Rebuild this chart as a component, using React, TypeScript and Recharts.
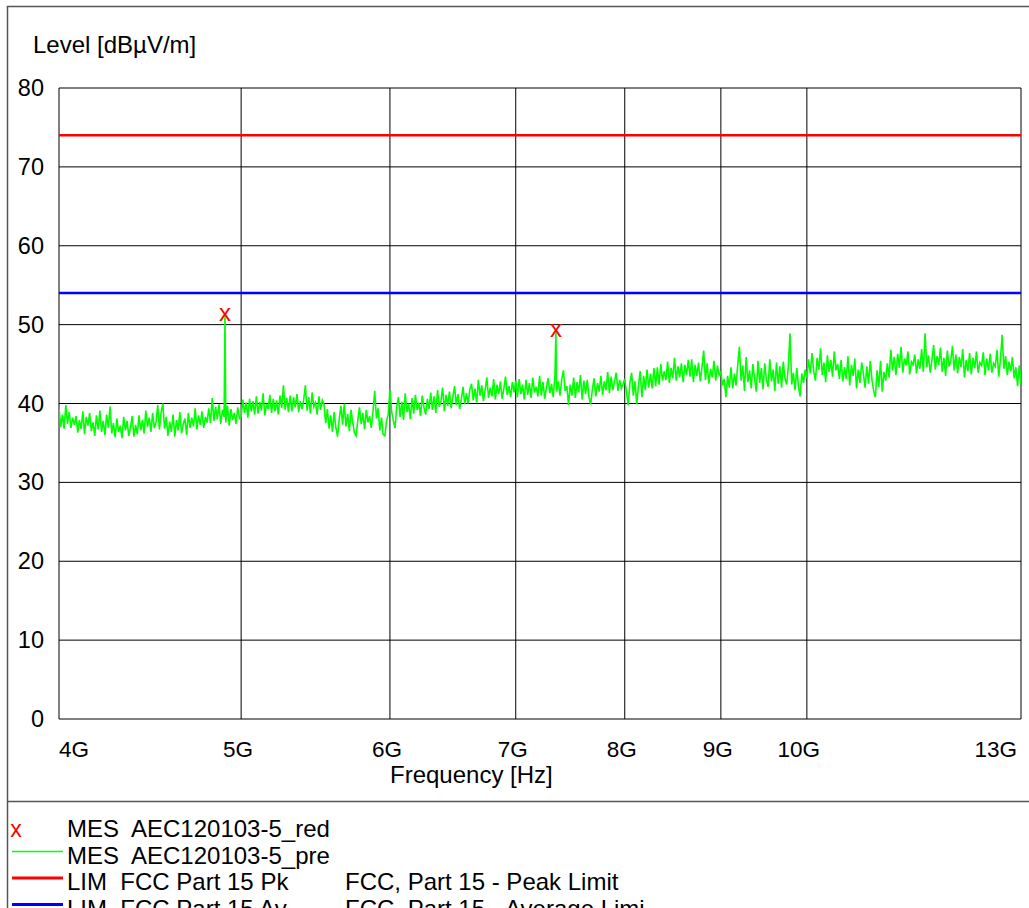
import React from "react";
import {
  ComposedChart,
  Line,
  Scatter,
  XAxis,
  YAxis,
  CartesianGrid,
} from "recharts";

const FONT = "'Liberation Sans', Arial, sans-serif";
const GHZ = 1e9;

// axis ticks
const FREQ_TICKS_GHZ = [4, 5, 6, 7, 8, 9, 10, 13];
const LEVEL_TICKS = [0, 10, 20, 30, 40, 50, 60, 70, 80];

// pre-scan trace, one array per frequency band (GHz edges below)
const BAND_EDGES_GHZ = [4, 5, 6, 7, 8, 9, 10, 13];

const LEVEL_4_5 = [
  39.5, 37.0, 38.6, 36.8, 39.8, 37.4, 38.9, 36.9, 38.2, 37.3,
  38.4, 36.3, 37.9, 36.8, 39.0, 36.1, 38.3, 37.2, 38.8, 36.5, 37.6, 35.9, 38.5, 36.7, 39.1, 36.4, 37.8, 36.0, 38.6, 36.9,
  39.6, 36.2, 37.5, 35.7, 38.1, 36.4, 37.2, 35.6, 38.3, 36.6, 37.8, 35.9, 37.0, 38.4, 35.8, 37.3, 36.1,
  38.5, 36.6, 37.9, 36.2, 39.1, 37.0, 38.2, 36.4, 38.8, 36.9, 37.6, 39.8, 36.7, 38.9, 40.0, 36.8,
  38.3, 35.9, 37.7, 36.4, 38.6, 35.8, 37.9, 36.6, 38.9, 36.2, 37.4, 38.1, 36.0,
  38.8, 36.9, 38.2, 37.1, 39.4, 36.7, 38.5, 37.3, 39.0, 36.9, 38.3, 37.6,
  39.4, 37.5, 40.7, 37.8, 39.6, 38.0, 39.9, 37.4, 39.2, 38.3,
  37.6, 39.7, 37.2, 39.3, 37.9, 38.8, 37.4, 39.5, 38.1,
];

const LEVEL_5_6 = [
  38.3, 40.5, 38.8, 40.1, 38.2, 40.6, 39.0, 40.3, 38.6,
  40.9, 38.7, 40.2, 39.1, 41.3, 38.5, 40.0, 39.3, 41.1, 38.8, 40.6, 39.0, 40.4, 38.6, 41.0, 39.4, 42.3, 39.2, 40.7, 38.9,
  41.0, 39.0, 40.8, 39.5, 41.2, 38.9, 40.3, 39.3, 40.5, 42.3, 39.1, 40.8, 38.7, 41.4, 39.6, 40.1, 38.6, 40.9, 39.2, 40.4,
  39.9, 37.5, 39.3, 36.8, 38.5, 36.4, 38.9, 37.0, 35.8, 38.0, 39.7, 37.3, 40.0, 37.1, 38.7, 36.5, 39.2, 37.6, 36.3, 35.9,
  37.9, 39.5, 37.4, 38.8, 36.7, 39.2, 37.6, 38.4, 36.9, 39.0, 41.6, 38.1, 39.4, 36.6, 38.2, 36.1, 35.9, 37.8, 38.6,
];

const LEVEL_6_7 = [
  41.8, 39.0, 37.8, 36.9, 39.6, 40.8, 38.3, 40.2, 37.9, 41.3, 38.9, 40.0, 38.0, 40.7, 38.7, 41.1, 39.2, 40.1, 38.4, 41.0,
  39.5, 38.6, 40.6, 39.3,
  41.4, 39.2, 40.9, 38.8, 41.7, 39.6, 40.3, 42.0, 39.0, 41.1, 39.7, 41.5, 39.4, 40.8, 42.2, 39.8, 41.2, 39.3, 40.6, 42.1,
  39.9, 41.3, 40.0, 41.8,
  42.5, 40.4, 41.9, 40.1, 43.0, 41.0, 42.3, 40.3, 41.7, 43.3, 40.7, 42.0, 40.9, 43.1, 40.5, 42.4, 41.2, 42.8, 40.6, 41.9,
  43.4, 41.1, 42.2, 40.8, 42.7, 41.4,
];

const LEVEL_7_8 = [
  42.9, 40.8, 43.1, 41.2, 42.4, 40.5, 43.0, 41.1, 42.6, 40.7, 43.3, 41.4, 42.1, 40.9, 43.5, 41.0, 42.7, 40.6, 42.0, 43.2,
  41.3, 42.5, 40.8, 43.4, 41.5, 42.8, 41.0, 43.1, 44.2, 41.6,
  42.2, 39.8, 42.4, 41.0, 43.3, 40.7, 42.7, 41.4, 43.6, 40.5, 42.9, 41.2, 43.0, 40.8, 39.9, 41.8, 43.2, 40.9, 42.6, 41.5,
  43.5, 41.1, 42.8, 41.7, 44.0, 41.3, 43.4, 41.7, 42.8, 43.9, 41.6, 43.0, 41.9, 42.5,
];

const LEVEL_8_9 = [
  43.1, 41.5, 39.8, 42.6, 43.9, 41.0, 42.8, 39.9, 42.3, 44.1, 40.8, 43.5, 41.7, 44.3, 42.0, 43.8, 41.9, 44.5, 42.2,
  44.6, 42.4, 45.0, 42.9, 44.1, 43.0, 45.3, 42.6, 44.5, 43.2, 45.8, 42.9, 44.7, 43.3, 45.1, 42.7, 44.9, 43.6, 45.5,
  43.4, 45.6, 42.7, 44.9, 43.5, 45.2, 42.8, 44.6, 46.7, 43.0, 45.1, 42.5, 44.4, 43.3, 45.4, 42.9, 44.8, 43.6,
];

const LEVEL_9_10 = [
  44.0, 42.3, 43.1, 40.8, 43.5, 42.0, 44.6, 41.9, 43.8, 42.3, 44.9, 47.2, 42.9, 44.8, 41.6, 45.9, 42.7,
  44.2, 41.9, 45.0, 43.1, 41.5, 45.4, 42.6, 44.5, 41.8, 45.1, 43.0, 42.1, 45.6, 42.8, 44.3, 41.6, 45.2,
  42.5, 44.7, 42.0, 45.3, 43.2, 42.4, 44.6, 48.9, 42.4, 43.9, 41.7, 44.5, 42.2, 40.9, 43.8, 42.6, 44.3,
];

const LEVEL_10_13 = [
  43.2, 45.6, 43.8, 46.4, 44.1, 42.9, 45.8, 44.3, 47.0, 43.6, 45.2, 42.7, 46.1, 44.0, 45.5, 43.4, 46.6, 44.2, 45.0, 43.1,
  45.5, 42.8, 44.6, 43.1, 46.0, 42.3, 44.9, 43.5, 45.7, 41.9, 44.3, 42.6, 45.2, 43.8, 42.0, 44.7, 42.5, 45.4, 43.0, 41.6,
  40.8, 44.2, 42.1, 45.4, 41.5, 44.0, 42.9, 45.1, 43.3,
  46.8, 44.2, 45.9, 43.6, 46.3, 44.5, 47.2, 43.9, 45.7, 44.8, 46.6, 43.7, 45.3, 44.9, 46.2, 43.8, 45.6, 44.4, 46.9, 44.0,
  48.9, 44.6, 46.1, 43.9, 45.5, 47.4, 44.3, 46.0, 44.9, 47.1, 44.0, 45.8, 43.5, 46.7, 44.7, 45.4, 47.3, 44.2, 46.2, 43.8,
  45.9, 44.6, 46.9, 43.3, 45.5, 44.1, 46.4, 43.7, 45.8, 44.5, 46.6, 43.9, 45.2, 44.8, 46.5, 43.6, 45.7, 44.2, 46.3, 43.9,
  45.1, 44.7, 46.8, 43.4, 45.6, 48.7, 44.4, 46.0, 43.6, 45.3, 44.1, 45.9, 43.2, 44.6, 42.2, 44.8, 42.4,
];

const BAND_LEVELS = [LEVEL_4_5, LEVEL_5_6, LEVEL_6_7, LEVEL_7_8, LEVEL_8_9, LEVEL_9_10, LEVEL_10_13];

// final measurements (red x)
const MARKER_FREQS_GHZ = [4.902, 7.353];
const MARKER_LEVELS = [51.2, 49.2];

// limit lines
const PEAK_LIMIT = 74;
const AVG_LIMIT = 54;

type Row = { freq: number; level: number };

function buildTrace(): Row[] {
  const rows: Row[] = [];
  BAND_LEVELS.forEach((levels, b) => {
    const lo = BAND_EDGES_GHZ[b];
    const hi = BAND_EDGES_GHZ[b + 1];
    const last = b === BAND_LEVELS.length - 1;
    const steps = last ? levels.length - 1 : levels.length;
    levels.forEach((level, j) => {
      rows.push({ freq: lo * Math.pow(hi / lo, j / steps) * GHZ, level });
    });
  });
  MARKER_FREQS_GHZ.forEach((f, i) => rows.push({ freq: f * GHZ, level: MARKER_LEVELS[i] }));
  return rows.sort((a, b) => a.freq - b.freq);
}

const traceRows = buildTrace();
const markerRows = MARKER_FREQS_GHZ.map((f, i) => ({ freq: f * GHZ, level: MARKER_LEVELS[i] }));
const xDomain = [FREQ_TICKS_GHZ[0] * GHZ, FREQ_TICKS_GHZ[FREQ_TICKS_GHZ.length - 1] * GHZ];
const peakRows = xDomain.map((freq) => ({ freq, level: PEAK_LIMIT }));
const avgRows = xDomain.map((freq) => ({ freq, level: AVG_LIMIT }));

const W = 1029;
const H = 908;

function FreqTick(props: any) {
  const { x, y, payload } = props;
  const v = payload.value / GHZ;
  let anchor = "middle";
  let tx = x - 3;
  if (v === FREQ_TICKS_GHZ[0]) {
    anchor = "start";
    tx = x;
  } else if (v === FREQ_TICKS_GHZ[FREQ_TICKS_GHZ.length - 1]) {
    anchor = "end";
    tx = x - 4;
  } else if (v >= 10) {
    tx = x - 8;
  }
  return (
    <text x={tx} y={y + 30} textAnchor={anchor} fontSize={22.5} fontFamily={FONT} fill="#000">
      {`${v}G`}
    </text>
  );
}

function LevelTick(props: any) {
  const { y, payload } = props;
  return (
    <text x={44} y={y + 8} textAnchor="end" fontSize={23.5} fontFamily={FONT} fill="#000">
      {payload.value}
    </text>
  );
}

function MarkerX(props: any) {
  const { cx, cy } = props;
  return (
    <text x={cx} y={cy + 6} textAnchor="middle" fontSize={24} fontFamily={FONT} fill="#ff0000">
      x
    </text>
  );
}

const legendRows = [
  { kind: "x", color: "#ff0000", width: 0, name: "MES  AEC120103-5_red", desc: "" },
  { kind: "line", color: "#00ff00", width: 1.5, name: "MES  AEC120103-5_pre", desc: "" },
  { kind: "line", color: "#ff0000", width: 3, name: "LIM  FCC Part 15 Pk", desc: "FCC, Part 15 - Peak Limit" },
  { kind: "line", color: "#0000ff", width: 3, name: "LIM  FCC Part 15 Av", desc: "FCC, Part 15 - Average Limi" },
];

function Frame() {
  return (
    <svg width={W} height={H} style={{ position: "absolute", left: 0, top: 0 }}>
      <rect x={7.5} y={6.5} width={W + 20} height={H + 20} fill="#fff" stroke="#555" strokeWidth={1.5} />
      <line x1={7} x2={W} y1={801.5} y2={801.5} stroke="#555" strokeWidth={1.5} />
      <text x={33} y={53} fontSize={24} fontFamily={FONT} fill="#000">
        Level [dBµV/m]
      </text>
      <text x={390} y={783} fontSize={24} fontFamily={FONT} fill="#000">
        Frequency [Hz]
      </text>
      {legendRows.map((r, i) => {
        const base = 837 + i * 26.5;
        return (
          <g key={r.name}>
            {r.kind === "x" ? (
              <text x={16} y={base} textAnchor="middle" fontSize={23} fontFamily={FONT} fill={r.color}>
                x
              </text>
            ) : (
              <line x1={12} x2={63} y1={base - 12} y2={base - 12} stroke={r.color} strokeWidth={r.width} />
            )}
            <text x={67} y={base} fontSize={24} fontFamily={FONT} fill="#000" style={{ whiteSpace: "pre" }}>
              {r.name}
            </text>
            {r.desc && (
              <text x={345} y={base} fontSize={24} fontFamily={FONT} fill="#000">
                {r.desc}
              </text>
            )}
          </g>
        );
      })}
    </svg>
  );
}

export default function App() {
  return (
    <div style={{ position: "absolute", left: 0, top: 0, width: W, height: H, overflow: "hidden", background: "#fff" }}>
      <Frame />
      <div style={{ position: "absolute", left: 0, top: 0 }}>
        <ComposedChart width={W} height={H} margin={{ top: 88, right: 8, bottom: 0, left: 0 }}>
          <CartesianGrid stroke="#000" strokeWidth={1} />
          <XAxis
            dataKey="freq"
            type="number"
            scale="log"
            domain={xDomain}
            ticks={FREQ_TICKS_GHZ.map((f) => f * GHZ)}
            allowDataOverflow
            height={189}
            axisLine={false}
            tickLine={false}
            tick={<FreqTick />}
            interval={0}
          />
          <YAxis
            type="number"
            domain={[0, 80]}
            ticks={LEVEL_TICKS}
            width={59}
            axisLine={false}
            tickLine={false}
            tick={<LevelTick />}
            interval={0}
          />
          <Line
            data={traceRows}
            dataKey="level"
            stroke="#00ff00"
            strokeWidth={1.6}
            dot={false}
            isAnimationActive={false}
          />
          <Line data={peakRows} dataKey="level" stroke="#ff0000" strokeWidth={2.5} dot={false} isAnimationActive={false} />
          <Line data={avgRows} dataKey="level" stroke="#0000ff" strokeWidth={2.5} dot={false} isAnimationActive={false} />
          <Scatter data={markerRows} dataKey="level" shape={<MarkerX />} isAnimationActive={false} />
        </ComposedChart>
      </div>
    </div>
  );
}
